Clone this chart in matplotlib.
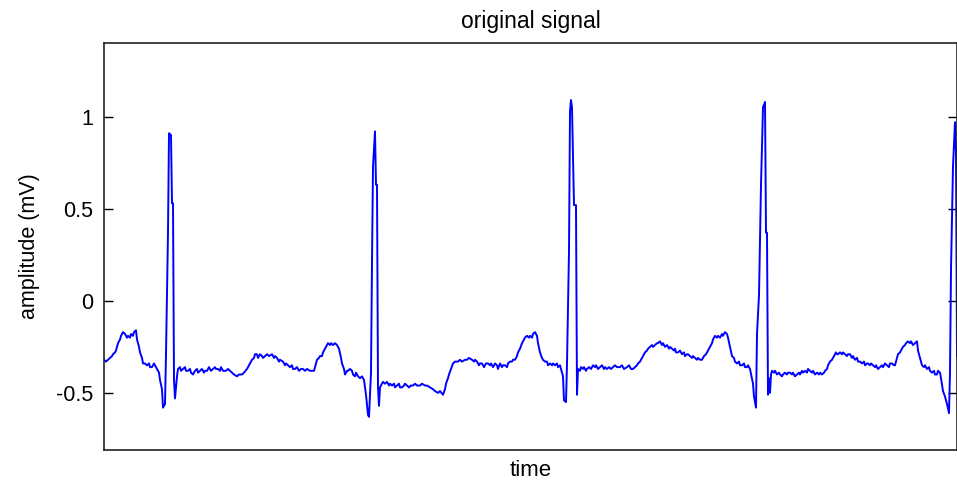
import matplotlib
matplotlib.use('Agg')
import matplotlib.pyplot as plt
import numpy as np

plt.rcParams['font.family'] = ['Liberation Sans', 'DejaVu Sans']

# ECG trace, read per beat: sample index and amplitude in mV
beat1_n = [0, 2, 4, 6, 8, 9, 11, 12, 14, 16, 17, 19, 21, 23, 24, 26, 27, 29, 30, 32,
           33, 35, 36, 38, 39, 41, 43, 45, 46, 48, 50, 51, 53, 55, 56, 58, 59, 61,
           62, 64, 65, 67, 68, 69, 70, 71, 73,
           74, 76, 77, 79, 81, 82, 84, 86, 87, 89, 91, 93, 94, 96, 98, 100, 101, 103,
           105, 107, 109, 111, 112, 114, 116, 117, 119, 122, 124, 126, 128, 130, 133,
           135, 138, 140, 143, 145, 146, 148, 150, 151, 153, 154, 156, 158, 159, 161,
           163, 165, 168, 170, 171, 173, 175, 176, 179, 181, 182, 184, 186, 188, 189,
           191, 193, 195, 197, 199, 201, 203, 206, 208, 210]
beat1_mv = [-0.32, -0.33, -0.32, -0.31, -0.30, -0.29, -0.28, -0.27, -0.23, -0.21, -0.19, -0.17,
            -0.18, -0.20, -0.19, -0.20, -0.18, -0.19, -0.17, -0.16,
            -0.21, -0.25, -0.28, -0.31, -0.34, -0.34, -0.35, -0.34, -0.36, -0.36, -0.34, -0.35,
            -0.37, -0.39, -0.43, -0.48, -0.58, -0.56,
            -0.29, 0.37, 0.91, 0.90, 0.53, 0.53, -0.43, -0.53, -0.41,
            -0.37, -0.36, -0.38, -0.37, -0.36, -0.38, -0.38, -0.37, -0.39, -0.40, -0.38, -0.37,
            -0.39, -0.38, -0.37, -0.39, -0.38, -0.38,
            -0.36, -0.38, -0.37, -0.36, -0.37, -0.37, -0.38, -0.36, -0.38, -0.38, -0.37, -0.38,
            -0.39, -0.40, -0.41,
            -0.40, -0.40, -0.39, -0.37, -0.35, -0.34, -0.32, -0.31, -0.29, -0.29, -0.31, -0.29,
            -0.30, -0.31, -0.30,
            -0.29, -0.30, -0.29, -0.31, -0.30, -0.31, -0.33, -0.32, -0.33, -0.35, -0.34, -0.35,
            -0.36, -0.35, -0.37,
            -0.37, -0.36, -0.38, -0.37, -0.37, -0.38, -0.37, -0.38, -0.38, -0.38]

beat2_n = [213, 215, 216, 218, 219, 221, 222, 224, 226, 227, 229, 231, 233, 234, 235, 237,
           238, 240, 241, 243, 244, 246, 248, 249, 251, 252, 254, 256, 258, 260, 262, 264,
           265, 267, 268, 269, 271, 272, 273, 274, 275, 276,
           278, 279, 281, 283, 285, 286, 288, 290, 291, 293, 295, 296, 298, 300, 301, 303,
           305, 307, 309, 311, 313, 316, 318, 321, 323, 326, 329, 331, 334, 336, 339, 341,
           342, 344, 345, 347, 349, 351, 354, 356, 358, 361, 363, 365, 368, 370, 371, 373,
           375, 376, 378, 380, 382, 384, 386, 387]
beat2_mv = [-0.32, -0.31, -0.30, -0.30, -0.28, -0.26, -0.25, -0.23, -0.24, -0.23, -0.24, -0.23,
            -0.24, -0.25, -0.26, -0.31,
            -0.34, -0.37, -0.40, -0.38, -0.38, -0.37, -0.38, -0.40, -0.41, -0.39, -0.41, -0.42,
            -0.41, -0.43, -0.51, -0.62,
            -0.63, -0.39, 0.21, 0.73, 0.92, 0.63, 0.63, -0.47, -0.57, -0.47,
            -0.45, -0.44, -0.45, -0.44, -0.46, -0.45, -0.46, -0.45, -0.47, -0.46, -0.45, -0.47,
            -0.47, -0.46, -0.45, -0.46,
            -0.47, -0.46, -0.46, -0.45, -0.46, -0.46, -0.45, -0.46, -0.46, -0.47, -0.48, -0.49,
            -0.50, -0.49, -0.51, -0.48,
            -0.45, -0.42, -0.40, -0.37, -0.34, -0.33, -0.33, -0.32, -0.33, -0.32, -0.32, -0.31,
            -0.32, -0.33, -0.32, -0.33,
            -0.35, -0.34, -0.34, -0.36, -0.34, -0.34, -0.35, -0.34]

beat3_n = [389, 391, 393, 394, 396, 398, 399, 401, 403, 404, 406, 408, 409, 411, 413, 414,
           416, 418, 420, 421, 423, 425, 426, 428, 429, 431, 433, 434, 436, 438, 439, 441,
           443, 444, 446, 448, 449, 451, 453, 454, 456, 457, 459,
           460, 462, 463, 465, 466, 467, 468, 470, 472, 473,
           474, 476, 477, 479, 480, 482, 483, 485, 487, 489, 491, 492, 494, 496, 498, 500,
           501, 503, 505, 507, 509, 511, 513, 516, 518, 520, 523, 525, 527, 529, 531, 533,
           534, 536, 538, 539, 541, 543, 544, 546, 548, 549, 551, 553, 554, 556, 558, 559,
           561, 563, 565, 566, 568, 570, 571, 572, 574, 576]
beat3_mv = [-0.36, -0.34, -0.35, -0.37, -0.34, -0.36, -0.35, -0.35, -0.36, -0.34, -0.33, -0.33,
            -0.32, -0.32, -0.30, -0.28,
            -0.26, -0.23, -0.21, -0.20, -0.19, -0.20, -0.19, -0.20, -0.18, -0.17, -0.19, -0.23,
            -0.28, -0.31, -0.32, -0.33,
            -0.33, -0.35, -0.34, -0.35, -0.34, -0.35, -0.34, -0.36, -0.35, -0.37, -0.41,
            -0.54, -0.55, -0.34, 0.27, 1.03, 1.09, 1.05, 0.52, 0.52, -0.51,
            -0.37, -0.38, -0.36, -0.37, -0.36, -0.38, -0.37, -0.36, -0.37, -0.35, -0.36, -0.35,
            -0.37, -0.36, -0.35, -0.37,
            -0.36, -0.37, -0.36, -0.37, -0.36, -0.35, -0.36, -0.36, -0.35, -0.37, -0.36, -0.35,
            -0.37, -0.37, -0.36, -0.35,
            -0.34, -0.33, -0.31, -0.30, -0.28, -0.27, -0.26, -0.25, -0.24, -0.25, -0.24, -0.23,
            -0.23, -0.22, -0.24, -0.23,
            -0.25, -0.24, -0.26, -0.25, -0.26, -0.27, -0.26, -0.28, -0.28, -0.27]

beat4_n = [578, 580, 581, 583, 584, 586, 588, 589, 591, 593, 594, 596, 598, 600, 602, 604,
           606, 608, 609, 611, 613, 614, 616, 618, 619, 621, 623, 624, 626, 628, 630, 631,
           633, 635, 636, 638, 640, 641, 643, 644, 646, 649,
           650, 652, 653, 655, 657, 659, 661, 662, 663, 664, 665, 666, 667,
           668, 670, 671, 673, 675, 676, 678, 679, 681, 683, 684, 686, 688, 689, 691, 693,
           695, 696, 698, 699, 701, 703, 704, 706, 708, 709, 711, 713, 715, 716, 718, 720,
           721, 723, 724, 726, 728, 729, 730, 732, 733, 734, 736, 738, 739, 741, 743, 744,
           746, 748, 749, 751, 753, 754, 756, 758, 760, 761, 763, 764, 766, 767]
beat4_mv = [-0.29, -0.28, -0.30, -0.29, -0.29, -0.30, -0.31, -0.30, -0.31, -0.32, -0.31, -0.32,
            -0.32, -0.30, -0.29, -0.27,
            -0.25, -0.23, -0.21, -0.19, -0.20, -0.19, -0.20, -0.18, -0.19, -0.17, -0.18, -0.20,
            -0.25, -0.30, -0.31, -0.33,
            -0.34, -0.33, -0.35, -0.35, -0.34, -0.36, -0.36, -0.35, -0.37, -0.45,
            -0.52, -0.58, -0.18, 0.03, 0.63, 1.05, 1.08, 0.37, 0.37, -0.51, -0.42, -0.50, -0.40,
            -0.38, -0.39, -0.38, -0.40, -0.39, -0.40, -0.41, -0.40, -0.39, -0.40, -0.39, -0.39,
            -0.40, -0.39, -0.41, -0.40,
            -0.39, -0.40, -0.38, -0.39, -0.38, -0.39, -0.37, -0.38, -0.39, -0.38, -0.40, -0.39,
            -0.40, -0.39, -0.40, -0.39,
            -0.38, -0.37, -0.35, -0.33, -0.32, -0.31, -0.30, -0.28, -0.29, -0.29, -0.28, -0.29,
            -0.28, -0.29, -0.30, -0.29,
            -0.29, -0.31, -0.30, -0.32, -0.31, -0.33, -0.33, -0.34, -0.33, -0.35, -0.34, -0.34,
            -0.35, -0.34]

beat5_n = [769, 771, 772, 774, 776, 778, 779, 781, 783, 785, 786, 788, 790, 791, 792, 794,
           796, 797, 799, 801, 802, 804, 806, 807, 809, 811, 813, 814, 816, 818, 820, 821,
           823, 825, 826, 828, 830, 831, 833, 834, 836, 837, 839, 841, 843, 845,
           846, 847, 849, 851, 852, 853]
beat5_mv = [-0.35, -0.36, -0.35, -0.37, -0.36, -0.35, -0.36, -0.34, -0.35, -0.36, -0.34, -0.34,
            -0.35, -0.35, -0.33, -0.29,
            -0.28, -0.27, -0.25, -0.24, -0.23, -0.22, -0.23, -0.22, -0.24, -0.23, -0.22, -0.27,
            -0.31, -0.35, -0.36, -0.35,
            -0.37, -0.36, -0.38, -0.39, -0.38, -0.40, -0.40, -0.38, -0.39, -0.42, -0.49, -0.52,
            -0.56, -0.61,
            -0.39, 0.17, 0.73, 0.97, 0.80, -0.30]

n = np.concatenate([beat1_n, beat2_n, beat3_n, beat4_n, beat5_n])
mv = np.concatenate([beat1_mv, beat2_mv, beat3_mv, beat4_mv, beat5_mv])

yticks = [-0.5, 0, 0.5, 1]
ytick_labels = ['-0.5', '0', '0.5', '1']

fig = plt.figure(figsize=(9.57, 4.88), dpi=100)
ax = fig.add_axes([104 / 957, 1 - 450 / 488, 1 - 104 / 957, (450 - 43) / 488])

ax.plot(n, mv, color='#0000ff', linewidth=1.4)

ax.set_xlim(0, 853)
ax.set_ylim(-0.81, 1.40)
ax.set_xticks([])
ax.set_yticks(yticks)
ax.set_yticklabels(ytick_labels)
ax.tick_params(axis='y', direction='in', length=6.5, width=1.0, labelsize=15.5,
               pad=8, right=True)

for side in ax.spines.values():
    side.set_linewidth(1.2)
    side.set_color('#222222')

ax.set_title('original signal', fontsize=16.5, pad=11)
ax.set_xlabel('time', fontsize=16, labelpad=7)
ax.set_ylabel('amplitude (mV)', fontsize=15.5, labelpad=11)

fig.savefig('out.png', dpi=100)
plt.close(fig)
